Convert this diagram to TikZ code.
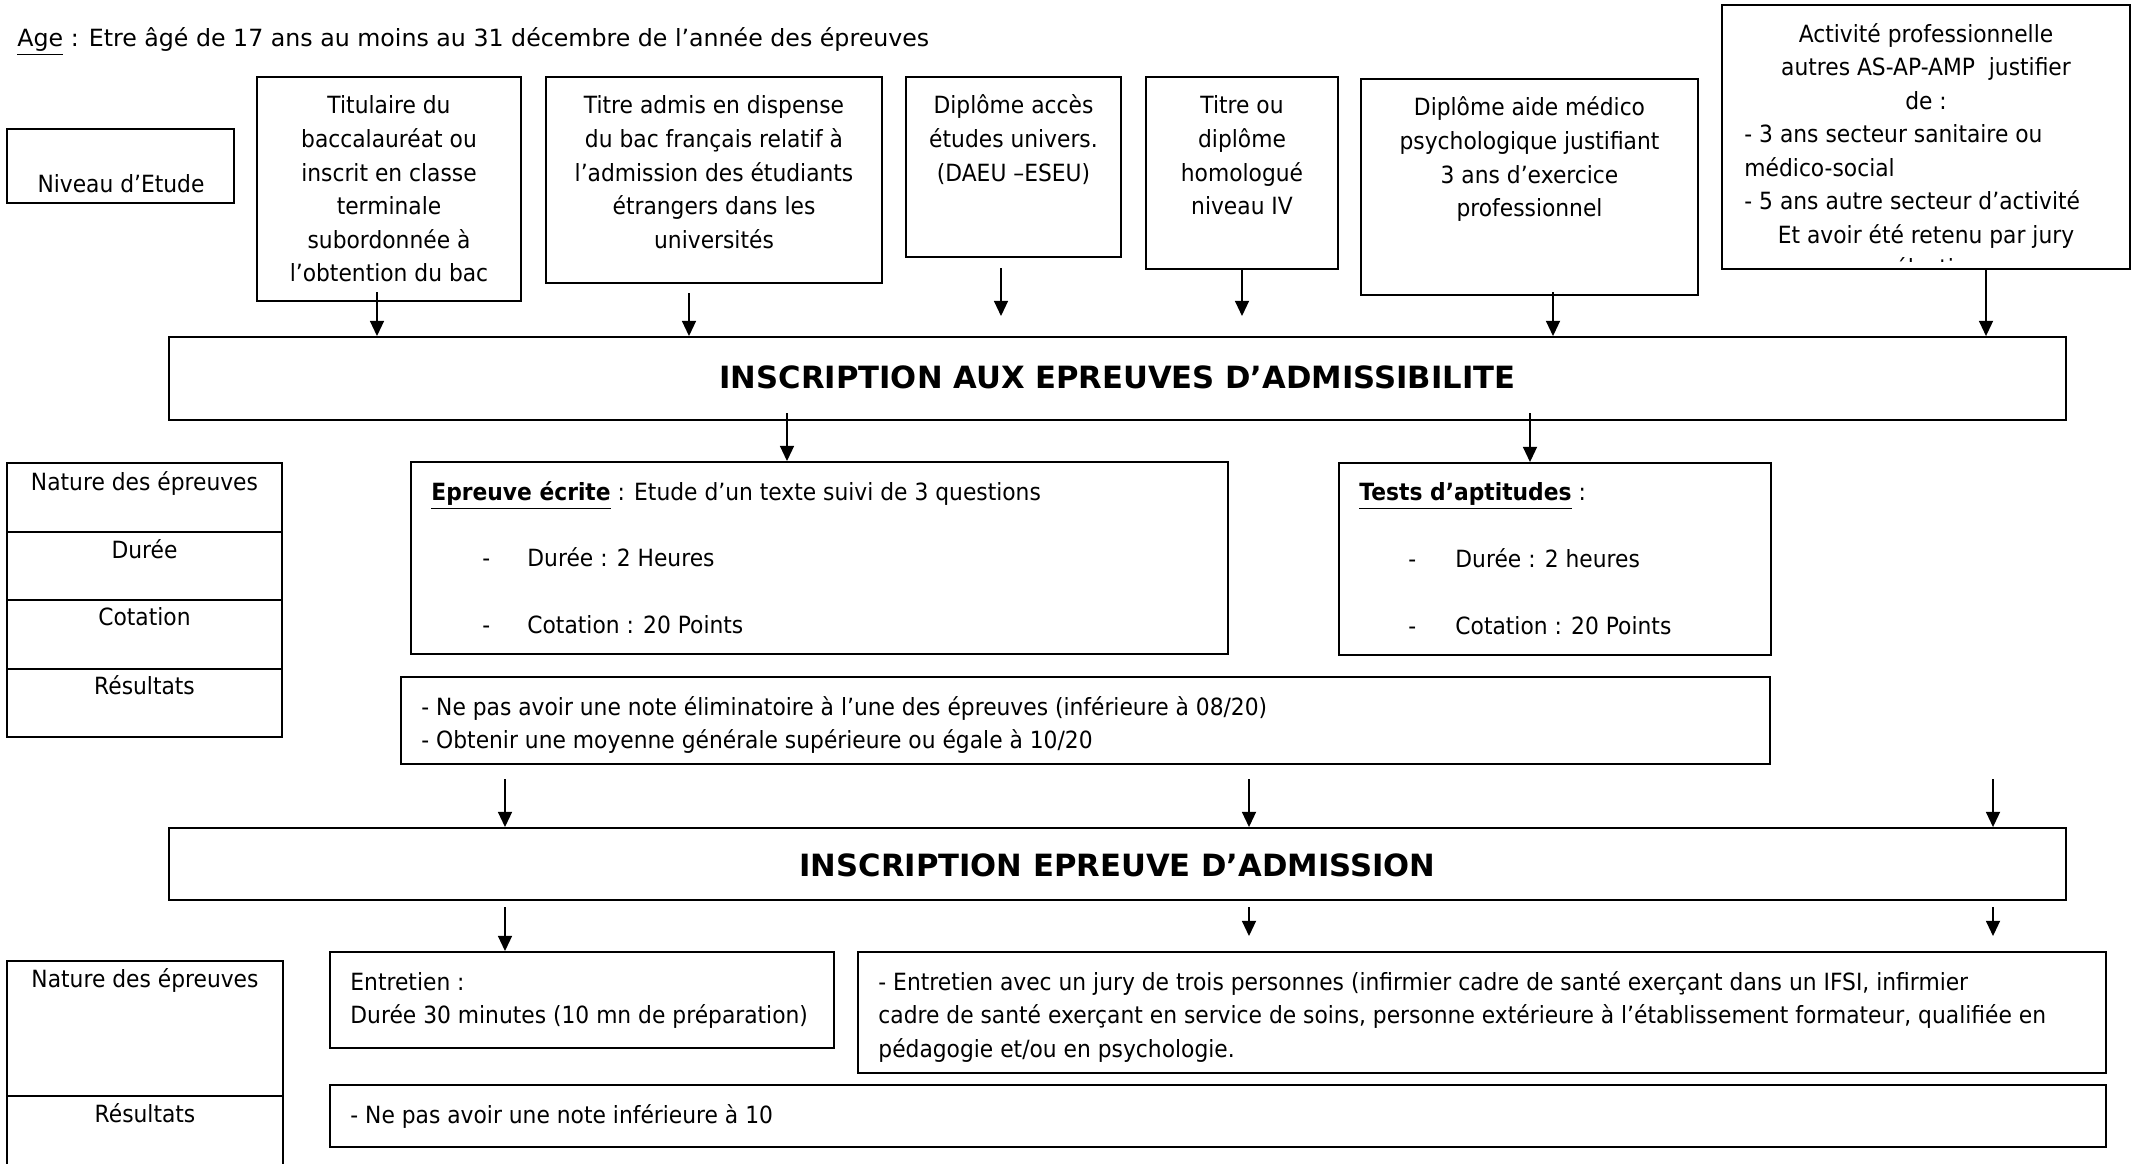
\documentclass[tikz,border=0pt]{standalone}
\usepackage{fontspec}
\setmainfont{DejaVu Sans}[FakeStretch=0.92]
\newfontfamily\plainfont{DejaVu Sans}
\usetikzlibrary{arrows.meta,fit}
\newcommand\fstr{\rule{0pt}{9.5pt}}
\begin{document}
\begin{tikzpicture}[x=0.46pt,y=-0.46pt,
  box/.style={draw, line width=0.9pt, inner sep=0pt},
  arr/.style={line width=0.6pt, -{Triangle[length=7pt,width=6.5pt]}},
  txt/.style={inner sep=0pt, font=\fontsize{10.9}{15.43}\selectfont},
  ttl/.style={inner sep=0pt, font=\plainfont\fontsize{14.1}{17}\selectfont\bfseries},
  ctxt/.style={txt, align=center, anchor=north},
  ltxt/.style={txt, align=left, anchor=north west}]
\useasboundingbox (0,0) rectangle (2138,1163);

% top line
\node[txt, anchor=base west, font=\plainfont\fontsize{10.9}{15.43}\selectfont] (age) at (17,46.5) {\underline{Age} : Etre âgé de 17 ans au moins au 31 décembre de l’année des épreuves};

% Niveau d'Etude
\node[box, fit={(7,129) (234,203)}] (niv) {};
\node[txt, anchor=base] (nivt) at (121,192.5) {Niveau d’Etude};

% top boxes
\node[box, fit={(257,77) (521,301)}] (b1) {};
\node[ctxt] (b1t) at (389,{113.5-20.65}) {\fstr Titulaire du\\baccalauréat ou\\inscrit en classe\\terminale\\subordonnée à\\l’obtention du bac};

\node[box, fit={(546,77) (882,283)}] (b2) {};
\node[ctxt] (b2t) at (714,{113.5-20.65}) {\fstr Titre admis en dispense\\du bac français relatif à\\l’admission des étudiants\\étrangers dans les\\universités};

\node[box, fit={(906,77) (1121,257)}] (b3) {};
\node[ctxt] (b3t) at (1013.5,{113.5-20.65}) {\fstr Diplôme accès\\études univers.\\(DAEU –ESEU)};

\node[box, fit={(1146,77) (1338,269)}] (b4) {};
\node[ctxt] (b4t) at (1242,{113.5-20.65}) {\fstr Titre ou\\diplôme\\homologué\\niveau IV};

\node[box, fit={(1361,79) (1698,295)}] (b5) {};
\node[ctxt] (b5t) at (1529.5,{115.5-20.65}) {\fstr Diplôme aide médico\\psychologique justifiant\\3 ans d’exercice\\professionnel};

\node[box, fit={(1722,5) (2130,269)}] (b6) {};
\node[ctxt] (b6ta) at (1926,{41.7-20.65}) {\fstr Activité professionnelle\\autres AS-AP-AMP\ \ justifier\\de :};
\node[ltxt] (b6tb) at (1744,{142.3-20.65}) {\fstr - 3 ans secteur sanitaire ou\\médico-social\\- 5 ans autre secteur d’activité};
\node[txt, anchor=base] (b6tc) at (1926,243) {Et avoir été retenu par jury};
\begin{scope}
  \clip (1722,5) rectangle (2130,261);
  \node[txt, anchor=base] (b6td) at (1932,276.5) {sélection};
\end{scope}

% first title
\node[box, fit={(169,337) (2066,420)}] (ins1) {};
\node[ttl, anchor=base] (ins1t) at (1117.5,388) {INSCRIPTION AUX EPREUVES D’ADMISSIBILITE};

% arrows into first title
\coordinate (a1s) at (377,292);
\coordinate (a2s) at (689,293);
\coordinate (a3s) at (1001,268);
\coordinate (a3e) at (1001,316);
\coordinate (a4s) at (1242,269);
\coordinate (a4e) at (1242,316);
\coordinate (a5s) at (1553,292);
\coordinate (a6s) at (1986,269);
\draw[arr] (a1s) -- (a1s |- ins1.north);
\draw[arr] (a2s) -- (a2s |- ins1.north);
\draw[arr] (a3s) -- (a3e);
\draw[arr] (a4s) -- (a4e);
\draw[arr] (a5s) -- (a5s |- ins1.north);
\draw[arr] (a6s) -- (a6s |- ins1.north);

% left table 1
\node[box, fit={(7,463) (282,532)}] (t1a) {};
\node[box, fit={(7,532) (282,600)}] (t1b) {};
\node[box, fit={(7,600) (282,669)}] (t1c) {};
\node[box, fit={(7,669) (282,737)}] (t1d) {};
\node[txt, anchor=base] (t1at) at (144.5,490.5) {Nature des épreuves};
\node[txt, anchor=base] (t1bt) at (144.5,558.5) {Durée};
\node[txt, anchor=base] (t1ct) at (144.5,625.5) {Cotation};
\node[txt, anchor=base] (t1dt) at (144.5,694.5) {Résultats};

% epreuve ecrite
\node[box, fit={(411,462) (1228,654)}] (ep) {};
\node[txt, anchor=base west] (ep1) at (431,500) {\underline{\textbf{Epreuve écrite}} : Etude d’un texte suivi de 3 questions};
\node[txt, anchor=base west] (ep2d) at (482,566.5) {-};
\node[txt, anchor=base west] (ep2) at (527,566.5) {Durée : 2 Heures};
\node[txt, anchor=base west] (ep3d) at (482,633.5) {-};
\node[txt, anchor=base west] (ep3) at (527,633.5) {Cotation : 20 Points};

% tests
\node[box, fit={(1339,463) (1771,655)}] (ts) {};
\node[txt, anchor=base west] (ts1) at (1359,500) {\underline{\textbf{Tests d’aptitudes}} :};
\node[txt, anchor=base west] (ts2d) at (1408,567) {-};
\node[txt, anchor=base west] (ts2) at (1455,567) {Durée : 2 heures};
\node[txt, anchor=base west] (ts3d) at (1408,634) {-};
\node[txt, anchor=base west] (ts3) at (1455,634) {Cotation : 20 Points};

\coordinate (c1s) at (787,413);
\coordinate (c2s) at (1530,413);
\draw[arr] (c1s) -- (c1s |- ep.north);
\draw[arr] (c2s) -- (c2s |- ts.north);

% results 1
\node[box, fit={(401,677) (1770,764)}] (res1) {};
\node[ltxt] (res1t) at (421,{715-20.65}) {\fstr - Ne pas avoir une note éliminatoire à l’une des épreuves (inférieure à 08/20)\\- Obtenir une moyenne générale supérieure ou égale à 10/20};

% second title
\node[box, fit={(169,828) (2066,900)}] (ins2) {};
\node[ttl, anchor=base] (ins2t) at (1117.5,876) {INSCRIPTION EPREUVE D’ADMISSION};

\coordinate (d1s) at (505,779);
\coordinate (d2s) at (1249,779);
\coordinate (d3s) at (1993,779);
\draw[arr] (d1s) -- (d1s |- ins2.north);
\draw[arr] (d2s) -- (d2s |- ins2.north);
\draw[arr] (d3s) -- (d3s |- ins2.north);

% left table 2
\node[box, fit={(7,961) (283,1096)}] (t2a) {};
\draw[line width=0.9pt] (7,1170) -- (7,1096) -- (283,1096) -- (283,1170);
\node[txt, anchor=base] (t2at) at (145,987) {Nature des épreuves};
\node[txt, anchor=base] (t2bt) at (145,1122.5) {Résultats};

% entretien
\node[box, fit={(330,952) (834,1048)}] (en) {};
\node[ltxt] (ent) at (350,{990-20.65}) {\fstr Entretien :\\Durée 30 minutes (10 mn de préparation)};

\node[box, fit={(858,952) (2106,1073)}] (jy) {};
\node[ltxt] (jyt) at (878,{990-20.65}) {\fstr - Entretien avec un jury de trois personnes (infirmier cadre de santé exerçant dans un IFSI, infirmier\\cadre de santé exerçant en service de soins, personne extérieure à l’établissement formateur, qualifiée en\\pédagogie et/ou en psychologie.};

\coordinate (e1s) at (505,907);
\coordinate (e2s) at (1249,907);
\coordinate (e2e) at (1249,936);
\coordinate (e3s) at (1993,907);
\coordinate (e3e) at (1993,936);
\draw[arr] (e1s) -- (e1s |- en.north);
\draw[arr] (e2s) -- (e2e);
\draw[arr] (e3s) -- (e3e);

% results 2
\node[box, fit={(330,1085) (2106,1147)}] (res2) {};
\node[txt, anchor=base west] (res2t) at (350,1123) {- Ne pas avoir une note inférieure à 10};
\end{tikzpicture}
\end{document}
